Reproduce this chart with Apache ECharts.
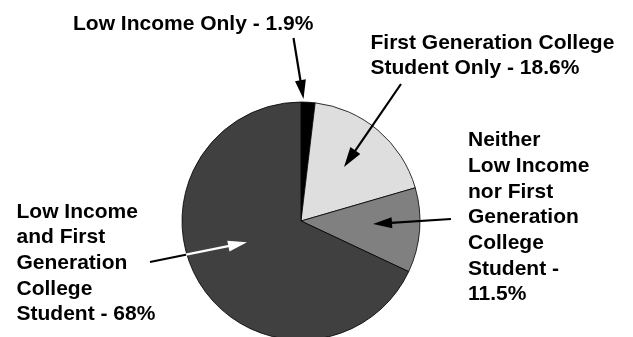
<!DOCTYPE html>
<html>
<head>
<meta charset="utf-8">
<script src="https://cdn.jsdelivr.net/npm/echarts@6/dist/echarts.min.js"></script>
<style>
  html, body { margin: 0; padding: 0; background: #fff; }
  #chart { width: 633px; height: 337px; }
</style>
</head>
<body>
<div id="chart"></div>
<script>
// Student groups, in clockwise order starting at 12 o'clock
const groupNames = [
  'Low Income Only',
  'First Generation College\nStudent Only',
  'Neither\nLow Income\nnor First\nGeneration\nCollege\nStudent',
  'Low Income\nand First\nGeneration\nCollege\nStudent'
];
const groupShares = [1.9, 18.6, 11.5, 68];
const sliceColors = ['#000000', '#dedede', '#808080', '#404040'];

const chart = echarts.init(document.getElementById('chart'), null, { renderer: 'canvas' });

const cx = 301, cy = 221, r = 119;
const font = 'bold 21px "Liberation Sans", Arial, sans-serif';
const lh = 25.7;

function labelText(i) {
  return groupNames[i] + ' - ' + groupShares[i] + '%';
}

// Callout arrow: shaft plus filled triangular head ending at the tip
function arrow(x1, y1, x2, y2, color, headLen, headW) {
  const dx = x2 - x1, dy = y2 - y1;
  const len = Math.sqrt(dx * dx + dy * dy);
  const ux = dx / len, uy = dy / len;
  const bx = x2 - ux * headLen, by = y2 - uy * headLen;
  const px = -uy * headW / 2, py = ux * headW / 2;
  return [
    { type: 'line', shape: { x1: x1, y1: y1, x2: bx + ux, y2: by + uy },
      style: { stroke: color, lineWidth: 2.2 }, z: 10 },
    { type: 'polygon', shape: { points: [[x2, y2], [bx + px, by + py], [bx - px, by - py]] },
      style: { fill: color }, z: 10 }
  ];
}

function text(x, y, str) {
  return { type: 'text', x: x, y: y, z: 10,
    style: { text: str, font: font, fill: '#000', lineHeight: lh, verticalAlign: 'top', align: 'left' } };
}

const graphics = [].concat(
  text(73, 11, labelText(0)),
  text(370.5, 30, labelText(1)),
  text(468, 127.5, labelText(2).replace(' - ', ' -\n')),
  text(16.5, 199, labelText(3)),
  arrow(293.5, 38, 303.5, 99, '#000', 19, 11),
  arrow(401, 84, 344, 167, '#000', 20, 12),
  arrow(451, 219, 373, 224, '#000', 19, 11),
  [{ type: 'line', shape: { x1: 150, y1: 262, x2: 187, y2: 254.5 },
     style: { stroke: '#000', lineWidth: 2.2 }, z: 10 }],
  arrow(186, 254.7, 247, 242.3, '#fff', 19, 11)
);

chart.setOption({
  animation: false,
  backgroundColor: '#ffffff',
  series: [{
    type: 'pie',
    center: [cx, cy],
    radius: r,
    startAngle: 90,
    clockwise: true,
    label: { show: false },
    labelLine: { show: false },
    itemStyle: { borderColor: '#000', borderWidth: 0.8 },
    emphasis: { disabled: true },
    data: groupShares.map((v, i) => ({
      value: v, name: groupNames[i], itemStyle: { color: sliceColors[i] }
    }))
  }],
  graphic: graphics
});
</script>
</body>
</html>
